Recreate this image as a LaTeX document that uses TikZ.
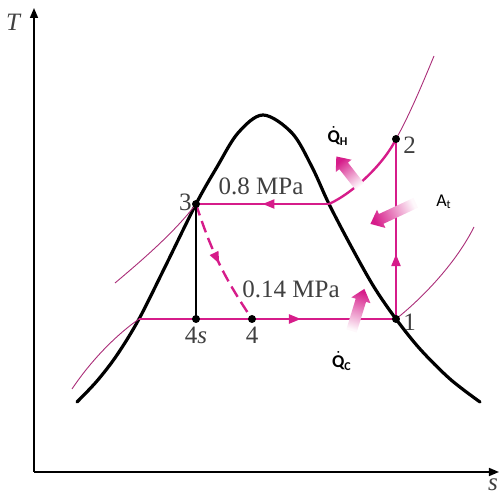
\documentclass[tikz,border=0pt]{standalone}
\usepackage{amsmath}
\usepackage{fontspec}
\setmainfont{Liberation Serif}
\newfontfamily\qfont{Carlito}
\usepackage{xcolor}
\usetikzlibrary{arrows.meta, calc, decorations.markings, positioning, shapes.arrows}

\definecolor{cycmag}{RGB}{214,28,138}
\definecolor{isomag}{RGB}{170,45,120}

\tikzset{
    axis/.style={line width=0.8pt, -{Triangle[length=5pt, width=4pt]}},
    dome/.style={line width=1.6pt, black, line cap=round},
    cycline/.style={line width=1.2pt, cycmag},
    isobar/.style={line width=0.45pt, isomag},
    midarrow/.style={postaction={decorate}, decoration={markings,
        mark=at position #1 with {\arrow{Triangle[length=6pt, width=4.5pt]}}}},
    heatarrow/.style={single arrow, draw=none, inner xsep=0pt, inner ysep=2.5pt,
        minimum width=0pt, single arrow head extend=2.3pt, single arrow tip angle=80,
        left color=cycmag!3, right color=cycmag},
    statelbl/.style={font=\fontsize{12.5}{14}\selectfont, text=black!75, inner sep=1pt},
    heatlbl/.style={font=\qfont\fontsize{9}{10}\selectfont, inner sep=0pt}
}

\newcommand{\heatlabel}[1]{$\dot{\text{\qfont\bfseries Q}}_{\text{\qfont\bfseries #1}}$}

\begin{document}
\begin{tikzpicture}[x=0.5pt, y=-0.5pt]
    \useasboundingbox (0,0) rectangle (500,497);

    % axes
    \coordinate (O) at (34,472);
    \coordinate (Ttop) at (34,8);
    \coordinate (send) at (499,472);
    \draw[axis] (O) -- (Ttop);
    \draw[axis] (O) -- (send);
    \node[statelbl, font=\fontsize{12.5}{14}\selectfont\itshape] (Tlbl) at (13,22) {T};
    \node[statelbl, font=\fontsize{12.5}{14}\selectfont\itshape] (slbl) at (493,485) {s};

    % saturation dome
    \draw[dome] plot[smooth, tension=0.55] coordinates {(77,402) (97,381) (117,355) (139,319)
        (165,267) (196,204) (217,167) (238,133) (263,115) (292,133) (312,167)
        (329,204) (352,248) (374,287) (396,319) (420,349) (450,379) (480,402)};

    % states
    \coordinate (p1) at (396,319);
    \coordinate (p2) at (396,139);
    \coordinate (p3) at (196,204);
    \coordinate (p4s) at (196,319);
    \coordinate (p4) at (252,319);
    \coordinate (g3) at (329,204);
    \coordinate (f4) at (139,319);

    % isobars
    \draw[isobar] (115,283) .. controls (140,262) and (175,232) .. (p3);
    \draw[isobar] (72,389) .. controls (88,365) and (112,338) .. (f4);
    \draw[isobar] (p2) .. controls (409,116) and (422,85) .. (434,56);
    \draw[isobar] (p1) .. controls (420,300) and (455,265) .. (474,227);

    % cycle
    \draw[cycline, midarrow=0.36] (p1) -- (p2);
    \draw[cycline] (p2) .. controls (385,162) and (355,192) .. (g3);
    \draw[cycline, midarrow=0.5] (g3) -- (p3);
    \draw[cycline, dash pattern=on 6pt off 3pt, midarrow=0.5] (p3) to[bend right=8] (p4);
    \draw[line width=0.7pt, black] (p3) -- (p4s);
    \draw[cycline, midarrow=0.63] (f4) -- (p1);

    \foreach \p in {p1, p2, p3, p4s, p4} {
        \fill (\p) circle (2pt);
    }

    % state labels
    \node[statelbl, left=1pt of p3, yshift=1pt] (l3) {3};
    \node[statelbl, right=2.5pt of p2, yshift=-3pt] (l2) {2};
    \node[statelbl, right=2.5pt of p1, yshift=-1.5pt] (l1) {1};
    \node[statelbl, below=3pt of p4s] (l4s) {4\textit{s}};
    \node[statelbl, below=3pt of p4] (l4) {4};
    \node[statelbl] (hp) at (261,186) {0.8 MPa};
    \node[statelbl] (lp) at (291,289) {0.14 MPa};

    % heat and work
    \node[heatarrow, minimum height=19pt, rotate=128, shading angle=218] (qh) at (350,174) {};
    \node[heatarrow, minimum height=25pt, rotate=205, shading angle=295] (at) at (396,212) {};
    \node[heatarrow, minimum height=22pt, rotate=73, shading angle=163] (qc) at (357,313) {};
    \node[heatlbl] (qhlbl) at (338,136) {\heatlabel{H}};
    \node[heatlbl] (qclbl) at (342,361) {\heatlabel{C}};
    \node[heatlbl] (atlbl) at (444,202) {A$_{\text{\qfont t}}$};
\end{tikzpicture}
\end{document}
